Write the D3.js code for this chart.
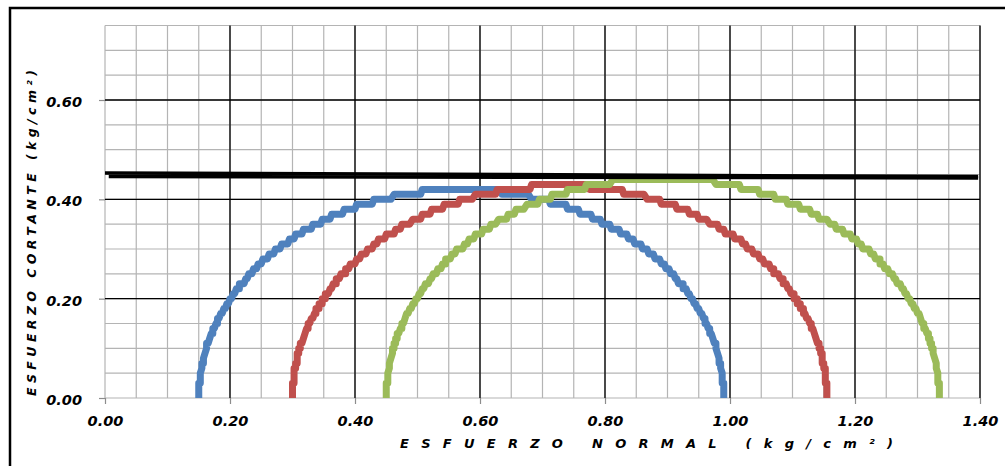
<!DOCTYPE html>
<html>
<head>
<meta charset="utf-8">
<script src="https://cdn.jsdelivr.net/npm/d3@7"></script>
<style>
  html, body { margin: 0; padding: 0; background: #fff; }
  svg { display: block; }
</style>
</head>
<body>
<script>
// ---- data ----
const xTickValues = [0.00, 0.20, 0.40, 0.60, 0.80, 1.00, 1.20, 1.40];
const yTickValues = [0.00, 0.20, 0.40, 0.60];
const circleNames = ["Ensayo 1", "Ensayo 2", "Ensayo 3"];
const sigma3 = [0.15, 0.30, 0.45];     // left end of each Mohr circle
const sigma1 = [0.99, 1.155, 1.335];   // right end of each Mohr circle
const circleColors = ["#4F81BD", "#C0504D", "#9BBB59"];
const envelopeA = [[0.000, 0.453], [1.397, 0.446]];
const envelopeB = [[0.006, 0.446], [1.397, 0.443]];
const xTitle = "ESFUERZO NORMAL (kg/cm²)";
const yTitle = "ESFUERZO CORTANTE (kg/cm²)";

// ---- layout ----
const W = 1005, H = 466;
const svg = d3.select("body").append("svg").attr("width", W).attr("height", H);

const x = d3.scaleLinear().domain([0, 1.4]).range([105, 980]);
const y = d3.scaleLinear().domain([0, 0.6]).range([398, 100]);
const yTop = 0.75;

// outer frame
svg.append("rect").attr("x", 10).attr("y", 8).attr("width", 1010).attr("height", 470)
  .attr("fill", "none").attr("stroke", "#000").attr("stroke-width", 2.5);

const g = svg.append("g");

// minor grid
const minorX = d3.range(0, 29).map(i => i * 0.05);
const minorY = d3.range(0, 16).map(i => i * 0.05);
g.selectAll(".mx").data(minorX).enter().append("line")
  .attr("x1", d => x(d)).attr("x2", d => x(d))
  .attr("y1", y(0)).attr("y2", y(yTop))
  .attr("stroke", "#B4B4B4").attr("stroke-width", 1.2);
g.selectAll(".my").data(minorY).enter().append("line")
  .attr("x1", x(0)).attr("x2", x(1.4))
  .attr("y1", d => y(d)).attr("y2", d => y(d))
  .attr("stroke", "#B4B4B4").attr("stroke-width", 1.2);

// major grid
g.selectAll(".Mx").data(xTickValues.filter(d => d > 0)).enter().append("line")
  .attr("x1", d => x(d)).attr("x2", d => x(d))
  .attr("y1", y(0)).attr("y2", y(yTop))
  .attr("stroke", "#000").attr("stroke-width", 1.3);
g.selectAll(".My").data(yTickValues.filter(d => d > 0)).enter().append("line")
  .attr("x1", x(0)).attr("x2", x(1.4))
  .attr("y1", d => y(d)).attr("y2", d => y(d))
  .attr("stroke", "#000").attr("stroke-width", 1.3);

// axes (ticks + labels)
const fmt = d3.format(".2f");
const xAxis = d3.axisBottom(x).tickValues(xTickValues).tickFormat(fmt).tickSize(6).tickPadding(12);
const yAxis = d3.axisLeft(y).tickValues(yTickValues).tickFormat(fmt).tickSize(6).tickPadding(17);
const gx = svg.append("g").attr("transform", `translate(0,${y(0)})`).call(xAxis);
const gy = svg.append("g").attr("transform", `translate(${x(0)},0)`).call(yAxis);
[gx, gy].forEach(a => {
  a.select(".domain").remove();
  a.selectAll(".tick line").attr("stroke", "#8C8C8C").attr("stroke-width", 1.2);
  a.selectAll(".tick text")
    .attr("fill", "#000")
    .style("font-family", "'DejaVu Sans', sans-serif")
    .style("font-weight", "bold").style("font-style", "italic")
    .style("font-size", "14.5px");
});
gy.selectAll(".tick text").attr("dy", "0.45em");

// Mohr circles (shear drawn at chart resolution of 0.01)
const angles = d3.range(0, 180.01, 0.5).map(a => a * Math.PI / 180);
const line = d3.line().x(d => x(d[0])).y(d => y(d[1]));
circleNames.forEach((name, i) => {
  const c = (sigma3[i] + sigma1[i]) / 2, r = (sigma1[i] - sigma3[i]) / 2;
  const raw = angles.map(t => [
    Math.round((c - r * Math.cos(t)) * 400) / 400,
    Math.round(r * Math.sin(t) * 100) / 100]);
  const pts = raw.filter((p, k) => k === 0 || p[0] !== raw[k - 1][0] || p[1] !== raw[k - 1][1]);
  g.append("path").datum(pts).attr("d", line)
    .attr("fill", "none").attr("stroke", circleColors[i])
    .attr("stroke-width", 7).attr("stroke-linejoin", "round").attr("stroke-linecap", "butt");
});

// envelope lines
[envelopeA, envelopeB].forEach(e => {
  g.append("path").datum(e).attr("d", line)
    .attr("fill", "none").attr("stroke", "#000").attr("stroke-width", 3.5);
});

// axis titles
svg.append("text").text(xTitle)
  .attr("x", 400).attr("y", 448)
  .attr("textLength", 493).attr("lengthAdjust", "spacing")
  .style("font-family", "'DejaVu Sans', sans-serif")
  .style("font-weight", "bold").style("font-style", "italic")
  .style("font-size", "13px");

svg.append("text").text(yTitle)
  .attr("transform", "translate(36,396) rotate(-90)")
  .attr("textLength", 326).attr("lengthAdjust", "spacing")
  .style("font-family", "'DejaVu Sans', sans-serif")
  .style("font-weight", "bold").style("font-style", "italic")
  .style("font-size", "12.5px");
</script>
</body>
</html>
